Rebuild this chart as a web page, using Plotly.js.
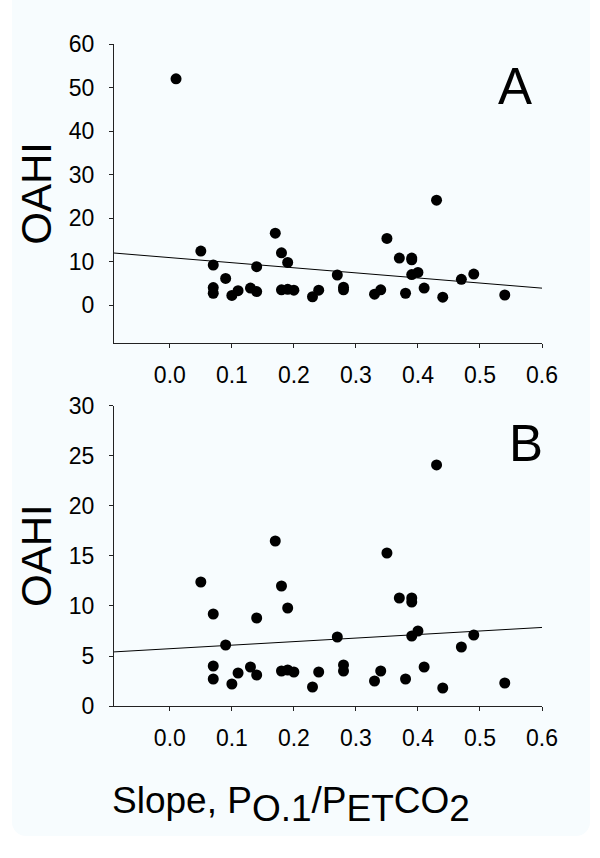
<!DOCTYPE html>
<html><head><meta charset="utf-8">
<script src="https://cdn.plot.ly/plotly-3.0.1.min.js"></script>
<style>
html,body{margin:0;padding:0;background:#ffffff;}
#bg{position:absolute;left:12px;top:0;width:578px;height:836px;background:#f7fcfe;border-radius:0 0 14px 14px;}
#chart{position:absolute;left:0;top:0;width:600px;height:858px;}
</style></head><body>
<div id="bg"></div><div id="chart"></div>
<script>
// Slope, P0.1/PETCO2 (x) and OAHI (y) for each subject; first point is the outlier shown only in panel A
const slopeValues = [0.01, 0.05, 0.07, 0.07, 0.07, 0.09, 0.10, 0.11, 0.13, 0.14, 0.14, 0.17, 0.18, 0.19, 0.18, 0.19, 0.20, 0.23, 0.24, 0.27, 0.28, 0.28, 0.33, 0.34, 0.35, 0.37, 0.38, 0.39, 0.39, 0.39, 0.40, 0.41, 0.43, 0.44, 0.47, 0.49, 0.54];
const oahiValues  = [52.0, 12.4, 9.2, 4.0, 2.7, 6.1, 2.2, 3.3, 3.9, 8.8, 3.1, 16.5, 12.0, 9.8, 3.5, 3.6, 3.4, 1.9, 3.4, 6.9, 4.1, 3.5, 2.5, 3.5, 15.3, 10.8, 2.7, 10.8, 10.4, 7.0, 7.5, 3.9, 24.1, 1.8, 5.9, 7.1, 2.3];
const slopeB = slopeValues.slice(1);
const oahiB = oahiValues.slice(1);

const xTickVals = [0, 0.1, 0.2, 0.3, 0.4, 0.5, 0.6];
const xTickText = ['0.0', '0.1', '0.2', '0.3', '0.4', '0.5', '0.6'];
const yTicksA = [0, 10, 20, 30, 40, 50, 60];
const yTicksB = [0, 5, 10, 15, 20, 25, 30];
const xRange = [-0.09, 0.6];

function fit(xs, ys) {
  const n = xs.length;
  const mx = xs.reduce((a, b) => a + b, 0) / n;
  const my = ys.reduce((a, b) => a + b, 0) / n;
  let sxy = 0, sxx = 0;
  for (let i = 0; i < n; i++) { sxy += (xs[i] - mx) * (ys[i] - my); sxx += (xs[i] - mx) ** 2; }
  const b = sxy / sxx, a = my - b * mx;
  return {x: xRange.slice(), y: xRange.map(v => a + b * v)};
}
const fitA = fit(slopeValues, oahiValues);
const fitB = fit(slopeB, oahiB);

const FONT = 'Liberation Sans, Arial, sans-serif';
const marker = {color: '#000', size: 11};
const traces = [
  {x: slopeValues, y: oahiValues, mode: 'markers', type: 'scatter', marker: marker, xaxis: 'x', yaxis: 'y', cliponaxis: false},
  {x: fitA.x, y: fitA.y, mode: 'lines', type: 'scatter', line: {color: '#000', width: 1}, xaxis: 'x', yaxis: 'y'},
  {x: slopeB, y: oahiB, mode: 'markers', type: 'scatter', marker: marker, xaxis: 'x2', yaxis: 'y2', cliponaxis: false},
  {x: fitB.x, y: fitB.y, mode: 'lines', type: 'scatter', line: {color: '#000', width: 1}, xaxis: 'x2', yaxis: 'y2'}
];

const axisCommon = {
  showline: true, linecolor: '#222', linewidth: 1, ticks: 'outside', ticklen: 4, tickwidth: 1, tickcolor: '#222',
  showgrid: false, zeroline: false, tickfont: {family: FONT, size: 23, color: '#000'}, fixedrange: true
};
const xa = Object.assign({}, axisCommon, {range: xRange, tickmode: 'array', tickvals: xTickVals, ticktext: xTickText, ticklabelstandoff: 7});

const layout = {
  width: 600, height: 858,
  margin: {l: 114, r: 58, t: 44, b: 152},
  paper_bgcolor: 'rgba(0,0,0,0)', plot_bgcolor: 'rgba(0,0,0,0)',
  showlegend: false,
  font: {family: FONT, color: '#000'},
  xaxis: Object.assign({}, xa, {anchor: 'y', domain: [0, 1]}),
  yaxis: Object.assign({}, axisCommon, {anchor: 'x', domain: [0.5479, 1], range: [-8.8, 60], tickmode: 'array', tickvals: yTicksA, ticklabelstandoff: 10}),
  xaxis2: Object.assign({}, xa, {anchor: 'y2', domain: [0, 1]}),
  yaxis2: Object.assign({}, axisCommon, {anchor: 'x2', domain: [0, 0.4532], range: [0, 30], tickmode: 'array', tickvals: yTicksB, ticklabelstandoff: 10}),
  annotations: [
    {text: 'A', xref: 'paper', yref: 'paper', x: 0.937, y: 0.9358, xanchor: 'center', yanchor: 'middle', showarrow: false, font: {family: FONT, size: 51, color: '#000'}},
    {text: 'B', xref: 'paper', yref: 'paper', x: 0.9626, y: 0.3958, xanchor: 'center', yanchor: 'middle', showarrow: false, font: {family: FONT, size: 51, color: '#000'}},
    {text: 'OAHI', xref: 'paper', yref: 'paper', x: -0.1799, y: 0.7739, xanchor: 'center', yanchor: 'middle', textangle: -90, showarrow: false, font: {family: FONT, size: 42, color: '#000'}},
    {text: 'OAHI', xref: 'paper', yref: 'paper', x: -0.1799, y: 0.2266, xanchor: 'center', yanchor: 'middle', textangle: -90, showarrow: false, font: {family: FONT, size: 42, color: '#000'}},
    {text: 'Slope, P<sub><span style="font-size:37px">O.1</span></sub>/P<sub><span style="font-size:37px">ET</span></sub>CO<sub><span style="font-size:37px">2</span></sub>',
     xref: 'paper', yref: 'paper', x: 0.4147, y: -0.1495, xanchor: 'center', yanchor: 'middle', showarrow: false, font: {family: FONT, size: 37, color: '#000'}}
  ]
};

Plotly.newPlot('chart', traces, layout, {displayModeBar: false, staticPlot: true});
</script>
</body></html>
